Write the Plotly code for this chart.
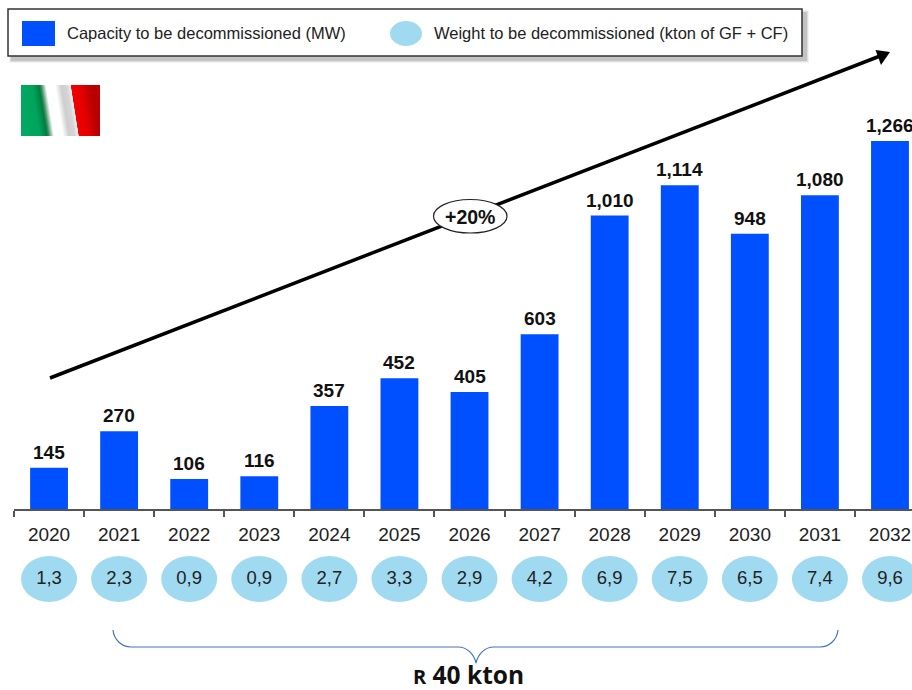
import base64
import math

import plotly.graph_objects as go

years = ["2020", "2021", "2022", "2023", "2024", "2025", "2026", "2027", "2028", "2029", "2030", "2031", "2032"]
capacity_mw = [145, 270, 106, 116, 357, 452, 405, 603, 1010, 1114, 948, 1080, 1266]
weight_kton = ["1,3", "2,3", "0,9", "0,9", "2,7", "3,3", "2,9", "4,2", "6,9", "7,5", "6,5", "7,4", "9,6"]
capacity_name = "Capacity to be decommissioned (MW)"
weight_name = "Weight to be decommissioned (kton of GF + CF)"
growth_label = "+20%"

W, H = 912, 690
BASE = 510
MW_PER_PX = 1 / 0.2915
BADGE_ROW = -69 * MW_PER_PX
SLOT_PX = (W - 14) / 12.814
BLUE = "#0050FF"
SKY = "#A0DAF0"
INK = "#222222"
FONT = "Liberation Sans"


def px(x):
    return x / W


def py(y):
    return (H - y) / H


def page_rect(x0, y0, x1, y1, **kw):
    return dict(type="rect", xref="paper", yref="paper", x0=px(x0), x1=px(x1), y0=py(y1), y1=py(y0), **kw)


def page_ellipse(x0, y0, x1, y1, **kw):
    return dict(type="circle", xref="paper", yref="paper", x0=px(x0), x1=px(x1), y0=py(y1), y1=py(y0), **kw)


def page_path(points, tail="", **kw):
    body = " ".join(f"{c} {px(x)} {py(y)}" for c, x, y in points)
    return dict(type="path", xref="paper", yref="paper", path=body + tail, **kw)


def curve(*pts):
    return "C " + ", ".join(f"{px(x)} {py(y)}" for x, y in pts)


def page_text(x, y, text, size, color=INK, family=FONT, anchor="center"):
    return dict(xref="paper", yref="paper", x=px(x), y=py(y), text=text, showarrow=False, xanchor=anchor,
                yanchor="middle", borderpad=0, font=dict(size=size, color=color, family=family))


def flag_image():
    """A small waving tricolour as an inline SVG gradient."""
    fw, fh, reach = 79, 51, 85
    tilt = math.atan(8 / fh)
    a = reach * math.cos(tilt)
    x2, y2 = a * math.cos(tilt), -a * math.sin(tilt)
    stops = [(0, "#00A862"), (11, "#00A45C"), (18, "#007E42"), (20, "#3E8E60"), (25, "#FFFFFF"), (34, "#FFFFFF"),
             (40, "#CECECE"), (46, "#D6D6D6"), (49.5, "#F4F4F4"), (50, "#F20000"), (60, "#E20000"), (70, "#B60000"),
             (79, "#BE0000")]
    stop_tags = "".join(f'<stop offset="{o / reach:.4f}" stop-color="{c}"/>' for o, c in stops)
    svg = (
        f'<svg xmlns="http://www.w3.org/2000/svg" width="{fw}" height="{fh}" viewBox="0 0 {fw} {fh}">'
        f'<defs><linearGradient id="g" gradientUnits="userSpaceOnUse" x1="0" y1="0" x2="{x2:.3f}" y2="{y2:.3f}">'
        f'{stop_tags}</linearGradient></defs><rect width="{fw}" height="{fh}" fill="url(#g)"/></svg>'
    )
    return "data:image/svg+xml;base64," + base64.b64encode(svg.encode()).decode()


shapes = []
annotations = []

# Legend frame with a soft drop shadow
for grow, alpha in ((6, 0.05), (4, 0.08), (2, 0.12)):
    shapes.append(page_rect(12 - grow / 2, 13 - grow / 2, 806 + grow / 2, 60 + grow / 2,
                            fillcolor=f"rgba(0,0,0,{alpha})", line_width=0))
shapes.append(page_rect(8, 9, 802, 56, fillcolor="white", line=dict(color="#333333", width=1.5)))
shapes.append(page_rect(22, 21, 55, 46, fillcolor=BLUE, line_width=0))
shapes.append(page_ellipse(390, 21, 422, 46, fillcolor=SKY, line_width=0))
annotations.append(page_text(66, 33, capacity_name, 16.5, anchor="left"))
annotations.append(page_text(432.5, 33, weight_name, 16.5, anchor="left"))

# Growth arrow with its rate badge
shapes.append(dict(type="line", xref="paper", yref="paper", x0=px(50), y0=py(378), x1=px(880), y1=py(56),
                   line=dict(color="black", width=3.5)))
shapes.append(page_path([("M", 890, 52), ("L", 875.5, 50), ("L", 881, 65)], " Z", fillcolor="black", line_width=0))
shapes.append(page_ellipse(433.5, 199.5, 507, 233, fillcolor="white", line=dict(color="#222222", width=1.2)))
annotations.append(page_text(470, 216.5, f"<b>{growth_label}</b>", 19.5, color="#111111"))

# Weight badges under each year, placed by category position
half_w = 28 / SLOT_PX
half_h = 23 * MW_PER_PX
for i, year in enumerate(years):
    shapes.append(dict(type="circle", xref="x", yref="y", x0=i - half_w, x1=i + half_w,
                       y0=BADGE_ROW - half_h, y1=BADGE_ROW + half_h,
                       fillcolor=SKY, line_width=0, layer="below"))

# Value labels a little clear of each bar top
for i, value in enumerate(capacity_mw):
    annotations.append(dict(xref="x", yref="y", x=i, y=value, yshift=3, yanchor="bottom", showarrow=False,
                            text=f"<b>{value:,}</b>", font=dict(size=19, color="#111111", family=FONT)))

# Brace spanning 2021 to 2031
brace = (
    f"M {px(113)} {py(630)} " + curve((114, 640), (122, 647), (131, 647)) +
    f" L {px(458)} {py(647)} " + curve((467, 647), (474, 654), (476, 663)) + " " +
    curve((478, 654), (485, 647), (494, 647)) +
    f" L {px(820)} {py(647)} " + curve((829, 647), (837, 640), (838, 630))
)
shapes.append(dict(type="path", xref="paper", yref="paper", path=brace, line=dict(color="#4472C4", width=1.2)))
annotations.append(page_text(468, 674, "<b><span style='font-size:20px'>R</span> 40 kton</b>", 24.5,
                             color="#111111", family="Open Sans"))

fig = go.Figure()
fig.add_bar(
    x=years, y=capacity_mw, width=0.54, marker=dict(color=BLUE, line_width=0),
    hoverinfo="x+y", name=capacity_name,
)
fig.add_scatter(
    x=years, y=[BADGE_ROW] * len(years), mode="text", text=weight_kton, name=weight_name,
    textposition="middle center", textfont=dict(size=18.5, color=INK, family=FONT), hoverinfo="x+text",
)
fig.update_layout(
    width=W, height=H, margin=dict(l=0, r=0, t=0, b=0, pad=0), showlegend=False,
    paper_bgcolor="white", plot_bgcolor="rgba(0,0,0,0)", shapes=shapes, annotations=annotations,
    images=[dict(source=flag_image(), xref="paper", yref="paper", x=px(21), y=py(85), sizex=px(79),
                 sizey=51 / H, sizing="stretch", xanchor="left", yanchor="top", layer="above")],
)
fig.update_xaxes(
    type="category", domain=[px(14), 1], range=[-0.5, 12.314], tickson="boundaries",
    anchor="free", position=py(BASE), ticks="outside", ticklen=6, tickwidth=1.5, tickcolor="#555555",
    showline=True, linecolor="#555555", linewidth=2, showgrid=False, zeroline=False,
    ticklabelstandoff=7, tickfont=dict(size=19, color=INK, family=FONT),
)
fig.update_yaxes(range=[-(H - BASE) * MW_PER_PX, BASE * MW_PER_PX], visible=False)
fig.write_html("out.html")
